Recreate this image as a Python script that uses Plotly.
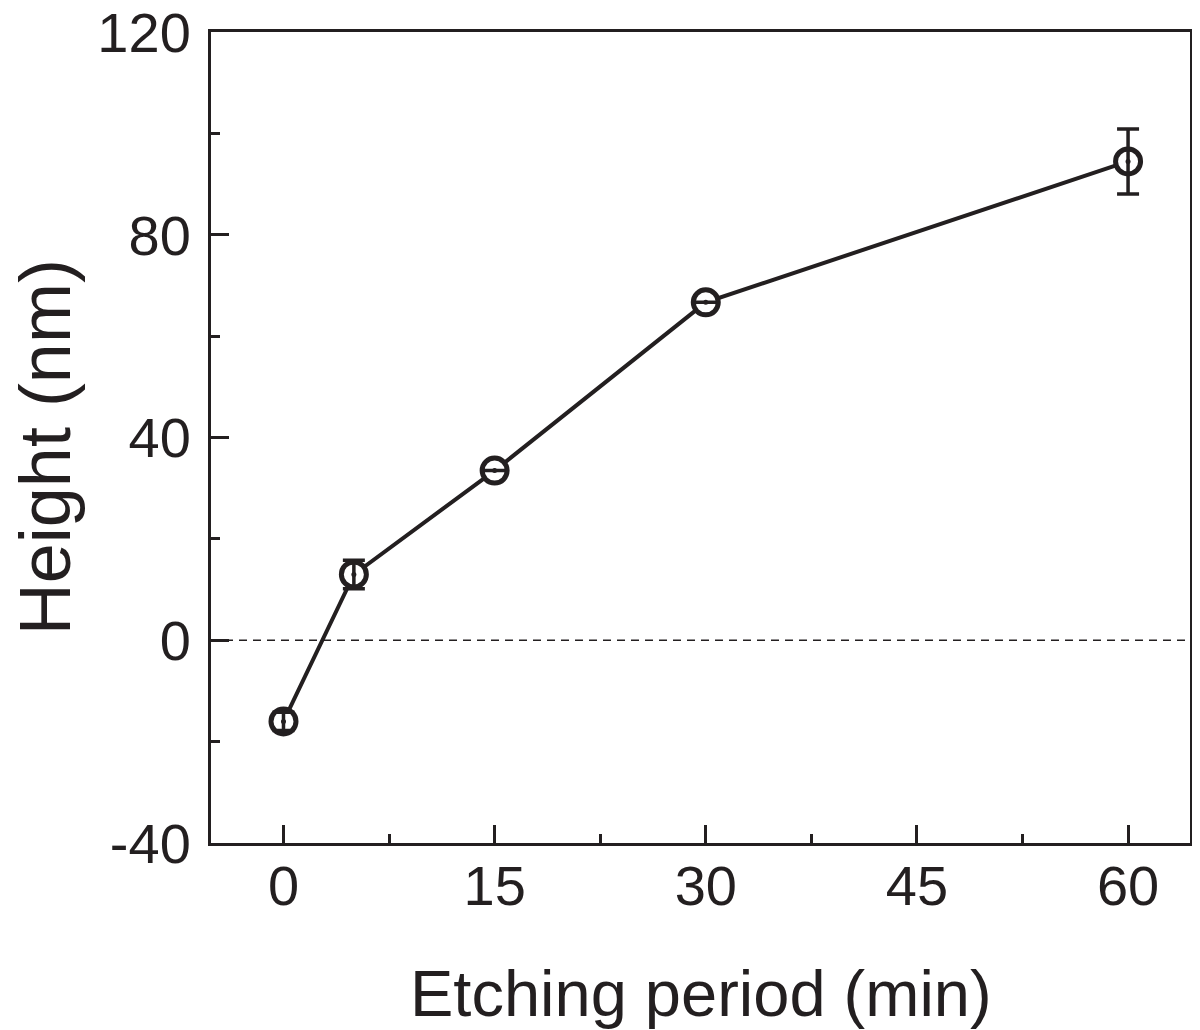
import plotly.graph_objects as go

etching_min = [0, 5, 15, 30, 60]
height_nm = [-16.0, 13.0, 33.5, 66.7, 94.5]
height_err = [1.8, 2.8, 0.0, 0.0, 6.4]
x_ticks = [0, 15, 30, 45, 60]
y_ticks = [-40, 0, 40, 80, 120]
x_title = "Etching period (min)"
y_title = "Height (nm)"

ink = "#231f20"
font_family = "Liberation Sans, Arial, Helvetica, sans-serif"

fig = go.Figure()

# zero reference line
fig.add_shape(type="line", xref="paper", yref="y", x0=0, x1=1, y0=0, y1=0,
              line=dict(color=ink, width=1.6, dash="8px,6px"), layer="below")

# main line with open circle markers
fig.add_trace(go.Scatter(
    x=etching_min, y=height_nm, mode="lines+markers",
    line=dict(color=ink, width=4),
    marker=dict(symbol="circle", size=25, color="white",
                line=dict(color=ink, width=5)),
    showlegend=False, hoverinfo="skip"))

# error bars drawn on top
fig.add_trace(go.Scatter(
    x=etching_min, y=height_nm, mode="markers",
    marker=dict(size=1, color="rgba(0,0,0,0)"),
    error_y=dict(type="data", array=height_err, visible=True,
                 color=ink, thickness=3.5, width=11),
    showlegend=False, hoverinfo="skip"))

# centre dot
fig.add_trace(go.Scatter(
    x=etching_min, y=height_nm, mode="markers",
    marker=dict(symbol="circle", size=5, color=ink, line=dict(width=0)),
    showlegend=False, hoverinfo="skip"))

fig.update_xaxes(
    range=[-5.15, 64.4], tickmode="array", tickvals=x_ticks,
    ticktext=[str(v) for v in x_ticks],
    ticks="inside", ticklen=18, tickwidth=3, tickcolor=ink,
    ticklabelstandoff=-8, automargin=False,
    minor=dict(tickmode="array", tickvals=[7.5, 22.5, 37.5, 52.5],
               ticks="inside", ticklen=9, tickwidth=3, tickcolor=ink),
    showline=True, linewidth=3, linecolor=ink, mirror=True,
    showgrid=False, zeroline=False,
    tickfont=dict(size=56, color=ink, family=font_family))

fig.update_yaxes(
    range=[-40, 120.05], tickmode="array", tickvals=y_ticks,
    ticktext=[str(v) for v in y_ticks],
    ticks="inside", ticklen=18, tickwidth=3, tickcolor=ink,
    ticklabelstandoff=6, ticklabeloverflow="allow", automargin=False,
    minor=dict(tickmode="array", tickvals=[-20, 20, 60, 100],
               ticks="inside", ticklen=9, tickwidth=3, tickcolor=ink),
    showline=True, linewidth=3, linecolor=ink, mirror=True,
    showgrid=False, zeroline=False,
    tickfont=dict(size=56, color=ink, family=font_family))

fig.add_annotation(text=x_title, xref="paper", yref="paper", x=0.5, y=0,
                   xanchor="center", yanchor="middle", yshift=-150,
                   showarrow=False,
                   font=dict(size=65, color=ink, family=font_family))
fig.add_annotation(text=y_title, xref="paper", yref="paper", x=0, y=0.488,
                   xanchor="center", yanchor="middle", xshift=-166,
                   textangle=-90, showarrow=False,
                   font=dict(size=72, color=ink, family=font_family))

fig.update_layout(
    width=1185, height=1022,
    margin=dict(l=203, r=3, t=24, b=187),
    paper_bgcolor="white", plot_bgcolor="white",
    font=dict(family=font_family, color=ink))

fig.write_html("out.html")
